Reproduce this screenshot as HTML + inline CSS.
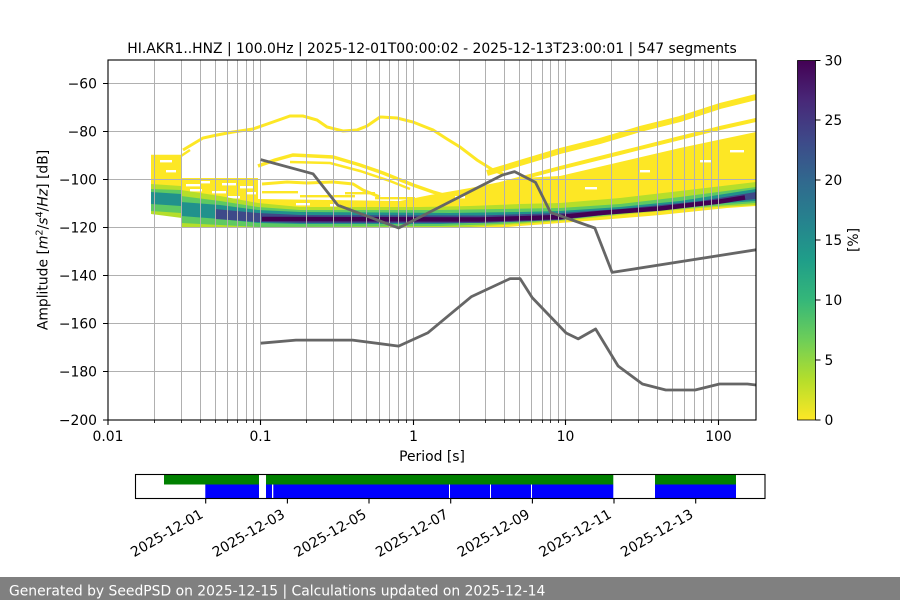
<!DOCTYPE html>
<html>
<head>
<meta charset="utf-8">
<style>
  html,body{margin:0;padding:0;background:#fff;}
  body{width:900px;height:600px;overflow:hidden;position:relative;}
  svg{display:block;position:absolute;left:0;top:0;}
</style>
</head>
<body>
<svg width="900" height="600" viewBox="0 0 900 600" xmlns="http://www.w3.org/2000/svg" font-family="DejaVu Sans, Liberation Sans, sans-serif" font-size="13.9">
  <defs>
    <clipPath id="pc"><rect x="108" y="60" width="648" height="360"/></clipPath>
    <linearGradient id="vir" x1="0" y1="0" x2="0" y2="1">
      <stop offset="0" stop-color="#440154"/>
      <stop offset="0.111" stop-color="#482878"/>
      <stop offset="0.222" stop-color="#3e4989"/>
      <stop offset="0.333" stop-color="#31688e"/>
      <stop offset="0.444" stop-color="#26828e"/>
      <stop offset="0.556" stop-color="#1f9e89"/>
      <stop offset="0.667" stop-color="#35b779"/>
      <stop offset="0.778" stop-color="#6ece58"/>
      <stop offset="0.889" stop-color="#b5de2b"/>
      <stop offset="1" stop-color="#fde725"/>
    </linearGradient>
  </defs>

  <!-- Title -->
  <text x="432" y="53" text-anchor="middle">HI.AKR1..HNZ | 100.0Hz | 2025-12-01T00:00:02 - 2025-12-13T23:00:01 | 547 segments</text>

  <!-- PPSD data -->
  <g clip-path="url(#pc)">
    <!-- yellow body -->
    <path fill="#fde725" d="M151,155 L181,155 L181,178 L258,178 L258,199 L400,201 L430,195 L470,188 L520,178 L560,176 L620,162 L680,148 L756,132 L756,206 L727,208 L660,215 L600,220 L560,223 L520,226 L495,228 L182,228 L182,217 L160,214 L151,210 Z"/>
    <!-- white holes for texture -->
    <g fill="#fff">
      <rect x="186" y="184" width="14" height="2.4"/>
      <rect x="212" y="191" width="14" height="2.4"/>
      <rect x="228" y="196" width="12" height="2.4"/>
      <rect x="240" y="186" width="14" height="2.4"/>
      <rect x="200" y="181" width="10" height="2.4"/>
      <rect x="190" y="189" width="12" height="2.4"/>
      <rect x="222" y="183" width="14" height="2.4"/>
      <rect x="246" y="192" width="10" height="2.4"/>
      <rect x="160" y="160" width="12" height="2.4"/>
      <rect x="166" y="170" width="10" height="2.4"/>
      <rect x="296" y="203" width="14" height="2.4"/>
      <rect x="330" y="204" width="10" height="2.4"/>
      <rect x="455" y="196" width="10" height="2.4"/>
      <rect x="585" y="187" width="12" height="2.4"/>
      <rect x="640" y="170" width="10" height="2.4"/>
      <rect x="700" y="160" width="12" height="2.4"/>
      <rect x="730" y="150" width="14" height="2.4"/>
    </g>
    <!-- sparse yellow rows above dense band -->
    <g fill="#fde725">
      <rect x="262" y="191" width="36" height="2.4"/>
      <rect x="300" y="195" width="55" height="2.4"/>
      <rect x="345" y="192" width="30" height="2.4"/>
      <rect x="375" y="197" width="40" height="2.4"/>
    </g>
    <!-- light green -->
    <path fill="#b5de2b" d="M151,184 L181,186 L181,190 L220,196 L258,203 L300,207 L420,207 L470,206 L520,204 L560,203 L620,198 L680,191 L756,182 L756,205 L700,208 L640,213 L600,217 L560,221 L520,224 L470,227 L182,227.5 L182,218 L151,214 Z"/>
    <!-- green -->
    <path fill="#5ec962" d="M151,189 L181,190 L181,196 L220,201 L258,207 L300,210 L440,210 L500,209 L560,208 L620,204 L680,197 L756,187 L756,203 L700,207 L640,212 L600,216 L560,220 L500,224 L440,226 L260,227 L220,225 L181,223 L181,213 L151,211 Z"/>
    <!-- teal -->
    <path fill="#21918c" d="M151,192 L181,194 L181,202 L220,205 L258,210 L300,212 L450,213 L520,212 L560,211 L620,207 L680,201 L756,189 L756,201 L700,205 L640,210 L600,214 L560,218 L500,222 L440,224 L300,224 L258,223 L220,219 L181,216 L181,206 L151,204 Z"/>
    <!-- blue -->
    <path fill="#3e4989" d="M215,209 L258,213 L300,215 L480,215.5 L560,213 L620,209 L700,201 L756,192 L756,199 L700,205 L620,213 L560,220 L480,223 L300,223 L258,222 L215,219 Z"/>
    <!-- dark line -->
    <polyline fill="none" stroke="#440154" stroke-width="4.5" points="262,219 480,219.5 530,218 560,217 600,213 660,208.5 720,201.5 745,197.5"/>

    <!-- upper stripes -->
    <g fill="none" stroke="#fde725" stroke-linejoin="miter">
      <polyline stroke-width="3" points="183,150 203,138 217,135 233,132 253,129 273,122 290,116 303,116 317,120 327,127 343,131 357,130 367,126 380,117 397,118 413,122 433,130 447,139 460,147 477,160 493,170 503,174"/>
      <polyline stroke-width="3.5" points="258,166 275,160 293,155 333,157 360,165 383,173 413,185 433,192 447,196"/>
      <polyline stroke-width="2.5" points="290,162 330,163 360,171 390,181 410,189"/>
      <polyline stroke-width="3" points="262,184 287,182 307,183 333,182 353,184 363,190 380,197"/>
      <polyline stroke-width="2.5" points="151,156 181,156 190,150"/>
      <polyline stroke-width="6" points="487,173 520,163 560,151 600,141 640,129 680,119 720,106 756,97"/>
      <polyline stroke-width="4" points="500,184 560,168 620,153 680,138 720,128 756,120"/>
    </g>

    <!-- grid -->
    <path fill="none" stroke="#b0b0b0" stroke-width="1" d="M154.5 60V420 M181.5 60V420 M200.5 60V420 M215.5 60V420 M227.5 60V420 M237.5 60V420 M246.5 60V420 M253.5 60V420 M260.5 60V420 M306.5 60V420 M333.5 60V420 M351.5 60V420 M366.5 60V420 M379.5 60V420 M389.5 60V420 M398.5 60V420 M406.5 60V420 M413.5 60V420 M459.5 60V420 M485.5 60V420 M504.5 60V420 M519.5 60V420 M531.5 60V420 M542.5 60V420 M550.5 60V420 M558.5 60V420 M565.5 60V420 M611.5 60V420 M638.5 60V420 M657.5 60V420 M672.5 60V420 M684.5 60V420 M694.5 60V420 M703.5 60V420 M711.5 60V420 M718.5 60V420 M108 83.5H756 M108 131.5H756 M108 179.5H756 M108 227.5H756 M108 275.5H756 M108 323.5H756 M108 371.5H756"/>

    <!-- noise models -->
    <polyline fill="none" stroke="#666666" stroke-width="2.8" stroke-linejoin="round" points="260.7,159.6 313.0,173.8 337.8,205.2 398.6,228.0 501.9,175.2 514.6,171.6 535.5,182.4 550.5,212.4 594.8,228.0 612.1,272.4 756,249.8"/>
    <polyline fill="none" stroke="#666666" stroke-width="2.8" stroke-linejoin="round" points="260.7,343.2 295.9,340.1 352.6,340.1 398.6,346.1 427.7,332.9 471.5,296.6 510.1,278.6 520.1,278.6 532.2,297.6 566.1,333.0 578.2,338.9 595.6,329.0 618.1,366.0 642.4,384.0 665.8,390.0 695.1,390.0 719.5,384.0 747.4,384.0 756,385.0"/>
  </g>

  <!-- axes frame -->
  <rect x="108" y="60" width="648" height="360" fill="none" stroke="#000" stroke-width="1.1"/>

  <!-- x ticks -->
  <path stroke="#000" stroke-width="1.1" d="M108 420V425 M260.5 420V425 M413.5 420V425 M565.5 420V425 M718.5 420V425"/>
  <path stroke="#000" stroke-width="0.8" d="M154.5 420V423 M181.5 420V423 M200.5 420V423 M215.5 420V423 M227.5 420V423 M237.5 420V423 M246.5 420V423 M253.5 420V423 M306.5 420V423 M333.5 420V423 M351.5 420V423 M366.5 420V423 M379.5 420V423 M389.5 420V423 M398.5 420V423 M406.5 420V423 M459.5 420V423 M485.5 420V423 M504.5 420V423 M519.5 420V423 M531.5 420V423 M542.5 420V423 M550.5 420V423 M558.5 420V423 M611.5 420V423 M638.5 420V423 M657.5 420V423 M672.5 420V423 M684.5 420V423 M694.5 420V423 M703.5 420V423 M711.5 420V423"/>
  <g text-anchor="middle">
    <text x="108" y="441">0.01</text>
    <text x="260.5" y="441">0.1</text>
    <text x="413.5" y="441">1</text>
    <text x="565.5" y="441">10</text>
    <text x="718.5" y="441">100</text>
  </g>
  <text x="432" y="461" text-anchor="middle">Period [s]</text>

  <!-- y ticks -->
  <path stroke="#000" stroke-width="1.1" d="M103 420H108 M103 371.5H108 M103 323.5H108 M103 275.5H108 M103 227.5H108 M103 179.5H108 M103 131.5H108 M103 83.5H108"/>
  <g text-anchor="end">
    <text x="97" y="425">−200</text>
    <text x="97" y="376.5">−180</text>
    <text x="97" y="328.5">−160</text>
    <text x="97" y="280.5">−140</text>
    <text x="97" y="232.5">−120</text>
    <text x="97" y="184.5">−100</text>
    <text x="97" y="136.5">−80</text>
    <text x="97" y="88.5">−60</text>
  </g>
  <text transform="translate(47.5,240) rotate(-90)" text-anchor="middle">Amplitude [<tspan font-style="italic">m</tspan><tspan font-size="9.7" dy="-5">2</tspan><tspan dy="5">/</tspan><tspan font-style="italic">s</tspan><tspan font-size="9.7" dy="-5">4</tspan><tspan dy="5">/</tspan><tspan font-style="italic">Hz</tspan>] [dB]</text>

  <!-- colorbar -->
  <rect x="797.5" y="60.5" width="18" height="359.5" fill="url(#vir)" stroke="#000" stroke-width="0.8"/>
  <path stroke="#000" stroke-width="1" d="M815.5 420H820.5 M815.5 360H820.5 M815.5 300H820.5 M815.5 240H820.5 M815.5 180H820.5 M815.5 120H820.5 M815.5 60.5H820.5"/>
  <g>
    <text x="824.5" y="425">0</text>
    <text x="824.5" y="365">5</text>
    <text x="824.5" y="305">10</text>
    <text x="824.5" y="245">15</text>
    <text x="824.5" y="185">20</text>
    <text x="824.5" y="125">25</text>
    <text x="824.5" y="65.5">30</text>
  </g>
  <text transform="translate(858,240) rotate(-90)" text-anchor="middle">[%]</text>

  <!-- timeline -->
  <rect x="135.5" y="474.5" width="629.5" height="24" fill="#fff"/>
  <g fill="#008000">
    <rect x="164" y="474.5" width="95" height="10"/>
    <rect x="266" y="474.5" width="347.3" height="10"/>
    <rect x="655" y="474.5" width="81" height="10"/>
  </g>
  <g fill="#0000ff">
    <rect x="205.3" y="484.5" width="53.7" height="14"/>
    <rect x="266" y="484.5" width="6" height="14"/>
    <rect x="273.3" y="484.5" width="175.7" height="14"/>
    <rect x="450" y="484.5" width="40" height="14"/>
    <rect x="491" y="484.5" width="40" height="14"/>
    <rect x="532" y="484.5" width="81.3" height="14"/>
    <rect x="655" y="484.5" width="81" height="14"/>
  </g>
  <rect x="135.5" y="474.5" width="629.5" height="24" fill="none" stroke="#000" stroke-width="1.1"/>
  <path stroke="#000" stroke-width="1.1" d="M205.7 498.5V503.5 M287.4 498.5V503.5 M369 498.5V503.5 M450.7 498.5V503.5 M532.4 498.5V503.5 M614 498.5V503.5 M695.7 498.5V503.5"/>
  <g text-anchor="end">
    <text transform="translate(204.1,517) rotate(-30)">2025-12-01</text>
    <text transform="translate(285.8,517) rotate(-30)">2025-12-03</text>
    <text transform="translate(367.4,517) rotate(-30)">2025-12-05</text>
    <text transform="translate(449.1,517) rotate(-30)">2025-12-07</text>
    <text transform="translate(530.8,517) rotate(-30)">2025-12-09</text>
    <text transform="translate(612.4,517) rotate(-30)">2025-12-11</text>
    <text transform="translate(694.1,517) rotate(-30)">2025-12-13</text>
  </g>

  <!-- footer -->
  <rect x="0" y="577" width="900" height="23" fill="#808080"/>
  <text x="9" y="595.5" fill="#ffffff">Generated by SeedPSD on 2025-12-15 | Calculations updated on 2025-12-14</text>
</svg>
</body>
</html>
